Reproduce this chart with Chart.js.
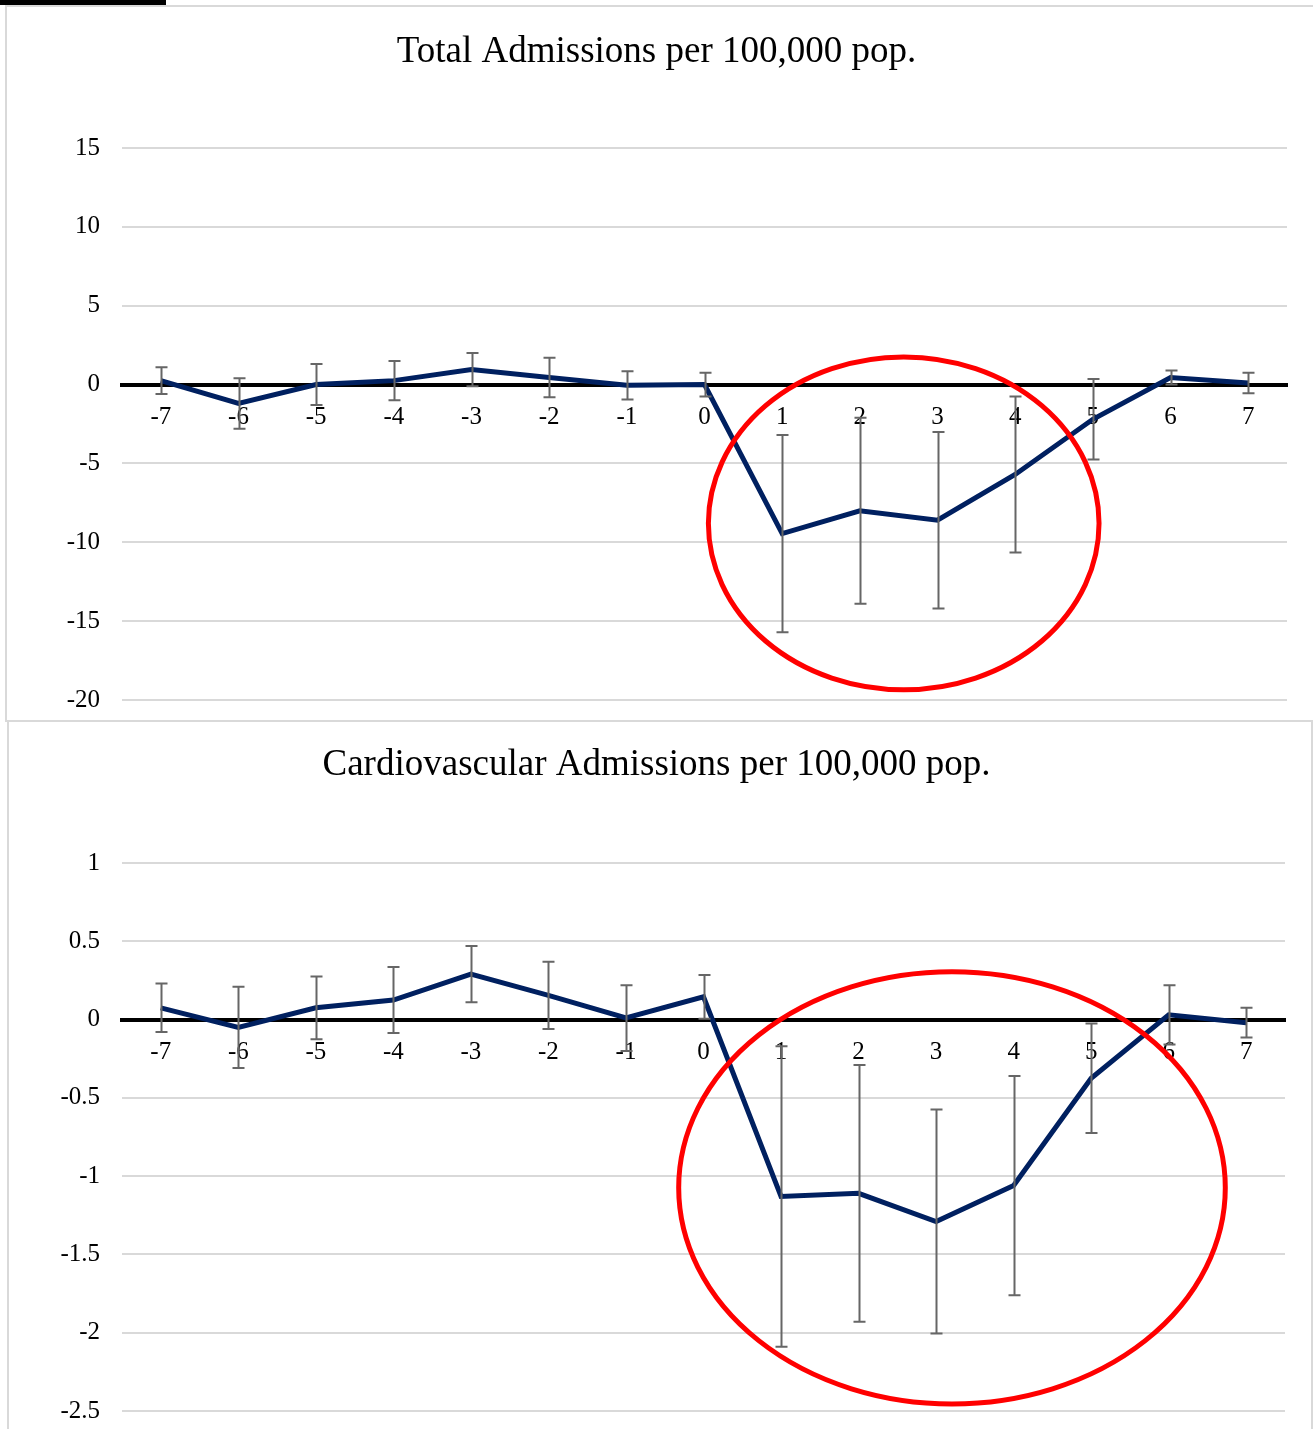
<!DOCTYPE html>
<html>
<head>
<meta charset="utf-8">
<script src="https://cdn.jsdelivr.net/npm/chart.js@4.4.1/dist/chart.umd.min.js"></script>
<style>
  html, body { margin: 0; padding: 0; background: #fff; }
  body { position: relative; width: 1313px; height: 1429px; overflow: hidden; }
  .rule { position: absolute; left: 0; top: 0; width: 166px; height: 5px; background: #000; }
  .panel { position: absolute; border: 2px solid #d9d9d9; box-sizing: border-box; }
  #p1 { left: 5px; top: 5px; width: 1400px; height: 717px; }
  #p2 { left: 7px; top: 720px; width: 1306px; height: 800px; }
  canvas { position: absolute; left: 0; }
  #c1 { top: 0; }
  #c2 { top: 721px; }
</style>
</head>
<body>
<div class="rule"></div>
<div class="panel" id="p1"></div>
<div class="panel" id="p2"></div>
<canvas id="c1" width="1313" height="720"></canvas>
<canvas id="c2" width="1313" height="708"></canvas>
<script>
// Event time (periods relative to the change)
const categories = [-7, -6, -5, -4, -3, -2, -1, 0, 1, 2, 3, 4, 5, 6, 7];

// Total admissions per 100,000 population: estimate and half-width of the interval
const totalValues = [0.25, -1.2, 0.0, 0.25, 0.95, 0.45, -0.05, 0.0, -9.45, -8.0, -8.6, -5.7, -2.2, 0.45, 0.1];
const totalErrors = [0.85, 1.6, 1.3, 1.25, 1.05, 1.25, 0.9, 0.75, 6.25, 5.9, 5.6, 4.95, 2.55, 0.45, 0.65];
const totalTicks = [-20, -15, -10, -5, 0, 5, 10, 15];

// Cardiovascular admissions per 100,000 population
const cardioValues = [0.075, -0.05, 0.075, 0.125, 0.29, 0.155, 0.01, 0.145, -1.13, -1.11, -1.29, -1.06, -0.375, 0.03, -0.02];
const cardioErrors = [0.155, 0.26, 0.2, 0.21, 0.18, 0.215, 0.21, 0.14, 0.96, 0.82, 0.715, 0.7, 0.35, 0.19, 0.095];
const cardioTicks = [-2.5, -2, -1.5, -1, -0.5, 0, 0.5, 1];

// Highlighted post-period region, in data units (event time, outcome)
const totalRing = { xMin: 0.05, xMax: 5.08, yMin: -19.35, yMax: 1.75 };
const cardioRing = { xMin: -0.32, xMax: 6.73, yMin: -2.455, yMax: 0.306 };

const SERIF = '"Liberation Serif", "Times New Roman", serif';
Chart.defaults.font.family = SERIF;
Chart.defaults.color = '#000';

// Vertical interval whiskers drawn through the chart's own scales
const errorBarPlugin = {
  id: 'errorBars',
  afterDraw(chart, args, opts) {
    const { ctx } = chart;
    const xs = chart.scales.x, ys = chart.scales.y;
    const vals = chart.data.datasets[0].data;
    ctx.save();
    ctx.strokeStyle = opts.color;
    ctx.lineWidth = opts.width;
    opts.errors.forEach((e, i) => {
      const x = Math.round(xs.getPixelForValue(i)) + 0.5;
      const yHi = ys.getPixelForValue(vals[i] + e);
      const yLo = ys.getPixelForValue(vals[i] - e);
      ctx.beginPath();
      ctx.moveTo(x, yHi); ctx.lineTo(x, yLo);
      ctx.moveTo(x - opts.cap, yHi); ctx.lineTo(x + opts.cap, yHi);
      ctx.moveTo(x - opts.cap, yLo); ctx.lineTo(x + opts.cap, yLo);
      ctx.stroke();
    });
    ctx.restore();
  }
};

// Red ellipse around a region given in data units
const ringPlugin = {
  id: 'ring',
  afterDraw(chart, args, opts) {
    const { ctx } = chart;
    const xs = chart.scales.x, ys = chart.scales.y;
    const r = opts.region;
    const x0 = xs.getPixelForValue(r.xMin - categories[0]);
    const x1 = xs.getPixelForValue(r.xMax - categories[0]);
    const y0 = ys.getPixelForValue(r.yMax);
    const y1 = ys.getPixelForValue(r.yMin);
    ctx.save();
    ctx.strokeStyle = opts.color;
    ctx.lineWidth = opts.width;
    ctx.beginPath();
    ctx.ellipse((x0 + x1) / 2, (y0 + y1) / 2, Math.abs(x1 - x0) / 2, Math.abs(y1 - y0) / 2, 0, 0, Math.PI * 2);
    ctx.stroke();
    ctx.restore();
  }
};

function buildChart(canvasId, title, values, errors, ticks, ring, layout) {
  return new Chart(document.getElementById(canvasId), {
    type: 'line',
    data: {
      labels: categories.map(String),
      datasets: [{
        data: values,
        borderColor: '#002060',
        borderWidth: 5,
        pointRadius: 0,
        tension: 0,
        fill: false,
        borderJoinStyle: 'miter'
      }]
    },
    options: {
      responsive: false,
      animation: false,
      devicePixelRatio: 1,
      layout: { padding: { left: layout.side, right: layout.side, top: 0, bottom: layout.bottom } },
      plugins: {
        legend: { display: false },
        tooltip: { enabled: false },
        title: {
          display: true,
          text: title,
          color: '#000',
          font: { family: SERIF, size: 37, weight: 'normal' },
          padding: { top: layout.titleTop, bottom: layout.titleBottom }
        },
        errorBars: { errors: errors, color: '#666666', width: 2, cap: 6 },
        ring: { region: ring, color: '#ff0000', width: 5 }
      },
      scales: {
        x: {
          type: 'category',
          offset: true,
          position: { y: 0 },
          grid: { display: false },
          border: { display: true, color: '#000', width: 4 },
          ticks: {
            color: '#000',
            font: { family: SERIF, size: 25 },
            padding: layout.xPad,
            maxRotation: 0,
            autoSkip: false
          }
        },
        y: {
          position: 'left',
          min: ticks[0],
          max: ticks[ticks.length - 1],
          afterBuildTicks(scale) { scale.ticks = ticks.map(v => ({ value: v })); },
          afterFit(scale) {
            scale.width = 122 - layout.side;
            scale.paddingTop = 0;
            scale.paddingBottom = 0;
          },
          border: { display: false },
          grid: { color: '#d9d9d9', lineWidth: 2, drawTicks: false },
          ticks: {
            color: '#000',
            font: { family: SERIF, size: 25 },
            padding: 22,
            callback: (v) => String(v)
          }
        }
      }
    },
    plugins: [errorBarPlugin, ringPlugin]
  });
}

buildChart('c1', 'Total Admissions per 100,000 pop.', totalValues, totalErrors, totalTicks, totalRing,
  { side: 26, bottom: 20, titleTop: 29.8, titleBottom: 73.8, xPad: 10 });
buildChart('c2', 'Cardiovascular Admissions per 100,000 pop.', cardioValues, cardioErrors, cardioTicks, cardioRing,
  { side: 28, bottom: 18, titleTop: 21.8, titleBottom: 75.8, xPad: 10 });
</script>
</body>
</html>
